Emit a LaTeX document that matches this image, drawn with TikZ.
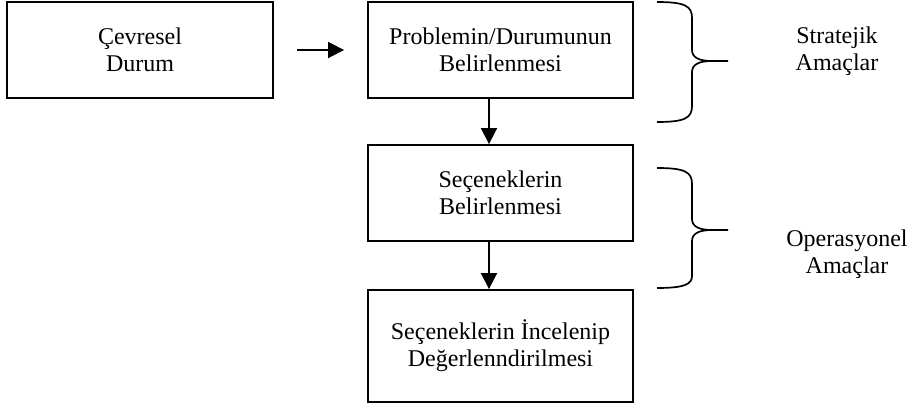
\documentclass[tikz,border=0pt]{standalone}
\usepackage{fontspec}
\setmainfont{Liberation Serif}
\usetikzlibrary{arrows.meta}
\begin{document}
\begin{tikzpicture}[x=1pt,y=-1pt,
  box/.style={draw=black, line width=1.9pt, minimum width=265pt, inner sep=0pt, align=center,
    font=\fontsize{24pt}{27pt}\selectfont},
  conn/.style={line width=1.9pt, -{Triangle[length=16pt,width=16pt]}},
  brace/.style={line width=1.7pt, line join=round}]
\useasboundingbox (0,0) rectangle (911,415);
\node[box, minimum width=266pt, minimum height=96pt] (b1) at (140,50) {Çevresel\\Durum};
\node[box, minimum height=96pt] (b2) at (500.5,50) {Problemin/Durumunun\\Belirlenmesi};
\node[box, minimum height=96pt] (b3) at (500.5,193) {Seçeneklerin\\Belirlenmesi};
\node[box, minimum height=112pt] (b4) at (500.5,346) {Seçeneklerin İncelenip\\Değerlenndirilmesi};
\draw[conn] ([xshift=23pt]b1.east) -- ([xshift=-23pt]b2.west);
\draw[conn] ([xshift=-11.5pt]b2.south) -- ([xshift=-11.5pt]b3.north);
\draw[conn] ([xshift=-11.5pt]b3.south) -- ([xshift=-11.5pt]b4.north);
% braces
\draw[brace] (657,2) .. controls (685,2) and (692,6) .. (692,18) -- (692,50)
  .. controls (692,58) and (700,61) .. (712,61) -- (728,61)
  (712,61) .. controls (700,61) and (692,64) .. (692,72) -- (692,106)
  .. controls (692,118) and (685,122) .. (657,122);
\draw[brace] (657,168) .. controls (685,168) and (692,172) .. (692,184) -- (692,219)
  .. controls (692,227) and (700,230) .. (712,230) -- (728,230)
  (712,230) .. controls (700,230) and (692,233) .. (692,241) -- (692,276)
  .. controls (692,284) and (685,288) .. (657,288);
\node[align=center, font=\fontsize{24pt}{27pt}\selectfont] (t1) at (837,51) {Stratejik\\Amaçlar};
\node[align=center, font=\fontsize{24pt}{27pt}\selectfont] (t2) at (847,254) {Operasyonel\\Amaçlar};
\end{tikzpicture}
\end{document}
